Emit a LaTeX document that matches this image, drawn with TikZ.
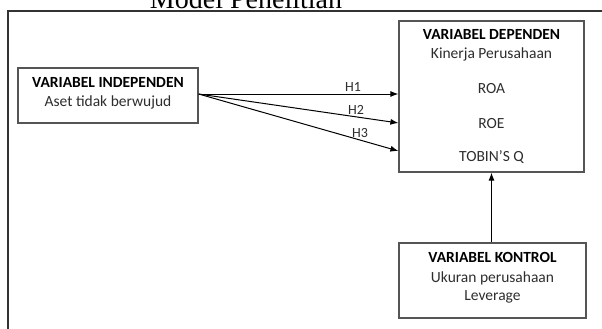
\documentclass[tikz,border=0pt]{standalone}
\usepackage{fontspec}
\setmainfont{Carlito}
\newfontfamily\titlefont{Liberation Serif}
\usetikzlibrary{arrows.meta}

\definecolor{boxgray}{RGB}{85,85,85}
\definecolor{txtgray}{RGB}{45,45,45}

\tikzset{
  varbox/.style={draw=boxgray, line width=1.2pt, minimum width=#1, inner sep=0pt},
  head/.style={font=\fontsize{15.5}{17}\selectfont\bfseries, text=black},
  item/.style={font=\fontsize{15.5}{17}\selectfont, text=txtgray},
  hyp/.style={-{Latex[length=8pt,width=6pt]}, line width=1pt},
  hlab/.style={font=\fontsize{14}{16}\selectfont, text=txtgray}
}

\begin{document}
\begin{tikzpicture}[x=1pt,y=-1pt]
 \useasboundingbox (0,0) rectangle (602,329);
 \clip (0,0) rectangle (602,329);
 % frame and title (cut at the top)
 \draw[line width=1.2pt, draw=black!80] (8,11) rectangle (620,350);
 \node[font=\titlefont\fontsize{28}{30}\selectfont, anchor=base] (title) at (246,9) {Model Penelitian};

 % boxes
 \node[varbox=180pt, minimum height=55pt] (indep) at (108,95.5) {};
 \node[varbox=185pt, minimum height=151pt] (dep) at (491.5,96.5) {};
 \node[varbox=187pt, minimum height=75pt] (kontrol) at (492.5,280.5) {};

 \node[head] (indep1) at (108,82) {VARIABEL INDEPENDEN};
 \node[item] (indep2) at (108,102) {Aset tidak berwujud};

 \node[head] (dep1) at (491.5,34) {VARIABEL DEPENDEN};
 \node[item] (dep2) at (491.5,54) {Kinerja Perusahaan};
 \node[item] (roa) at (491.5,89) {ROA};
 \node[item] (roe) at (491.5,124) {ROE};
 \node[item] (tobin) at (491.5,157) {TOBIN'S Q};

 \node[head] (kontrol1) at (492.5,257) {VARIABEL KONTROL};
 \node[item] (kontrol2) at (492.5,278) {Ukuran perusahaan};
 \node[item] (kontrol3) at (492.5,297) {Leverage};

 % hypotheses
 \coordinate (from) at (indep.east |- 0,94);
 \coordinate (to1) at (dep.west |- 0,94);
 \coordinate (to2) at (dep.west |- 0,123);
 \coordinate (to3) at (dep.west |- 0,151);
 \draw[hyp] (from) -- (to1);
 \draw[hyp] (from) -- (to2);
 \draw[hyp] (from) -- (to3);
 \node[hlab] (h1) at (353,87) {H1};
 \node[hlab] (h2) at (356,110) {H2};
 \node[hlab] (h3) at (360,133) {H3};

 \draw[hyp] (kontrol.north -| dep.south) -- (dep.south);
\end{tikzpicture}
\end{document}
